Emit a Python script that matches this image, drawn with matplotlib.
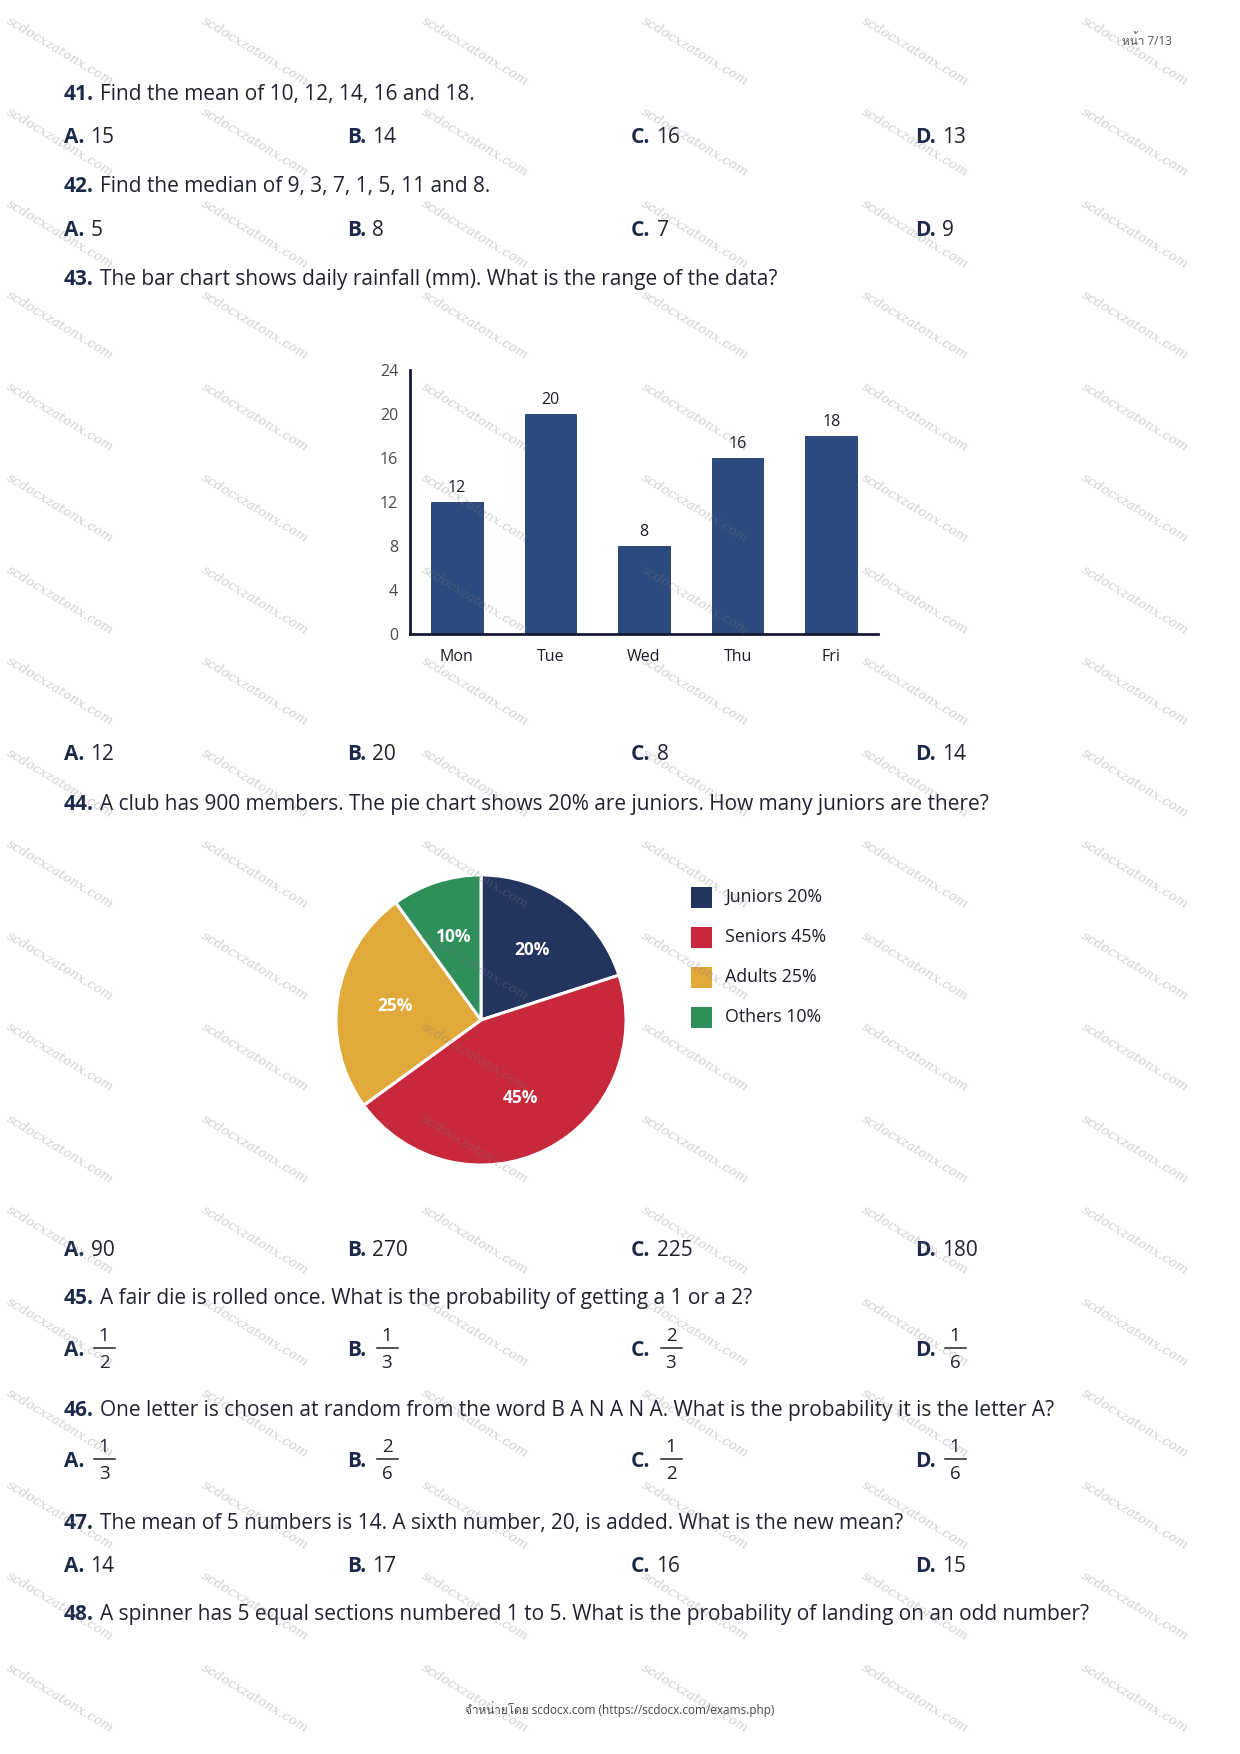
import matplotlib
matplotlib.use("Agg")
import matplotlib.pyplot as plt
from matplotlib import font_manager as fm
from matplotlib.font_manager import FontProperties, findfont
from matplotlib.ft2font import FT2Font
from matplotlib.patches import Rectangle
from matplotlib.lines import Line2D

# ---------------- data ----------------
page_label = "หน้า 7/13"
footer_text = "จำหน่ายโดย scdocx.com (https://scdocx.com/exams.php)"
watermark_text = "scdocxzatonx.com"

q41 = ("41.", "Find the mean of 10, 12, 14, 16 and 18.")
q41_opts = ["15", "14", "16", "13"]
q42 = ("42.", "Find the median of 9, 3, 7, 1, 5, 11 and 8.")
q42_opts = ["5", "8", "7", "9"]
q43 = ("43.", "The bar chart shows daily rainfall (mm). What is the range of the data?")
q43_opts = ["12", "20", "8", "14"]
q44 = ("44.", "A club has 900 members. The pie chart shows 20% are juniors. How many juniors are there?")
q44_opts = ["90", "270", "225", "180"]
q45 = ("45.", "A fair die is rolled once. What is the probability of getting a 1 or a 2?")
q45_num = ["1", "1", "2", "1"]
q45_den = ["2", "3", "3", "6"]
q46 = ("46.", "One letter is chosen at random from the word B A N A N A. What is the probability it is the letter A?")
q46_num = ["1", "2", "1", "1"]
q46_den = ["3", "6", "2", "6"]
q47 = ("47.", "The mean of 5 numbers is 14. A sixth number, 20, is added. What is the new mean?")
q47_opts = ["14", "17", "16", "15"]
q48 = ("48.", "A spinner has 5 equal sections numbered 1 to 5. What is the probability of landing on an odd number?")
opt_letters = ["A.", "B.", "C.", "D."]

rain_days = ["Mon", "Tue", "Wed", "Thu", "Fri"]
rain_mm = [12, 20, 8, 16, 18]
rain_yticks = [0, 4, 8, 12, 16, 20, 24]

pie_labels = ["Juniors", "Seniors", "Adults", "Others"]
pie_pct = [20, 45, 25, 10]

# ---------------- fonts ----------------
thai_font = None
for f in fm.fontManager.ttflist:
    try:
        if 0x0E2B in FT2Font(f.fname).get_charmap():
            thai_font = f.name
            break
    except Exception:
        pass


def has_bold(fam):
    try:
        r = findfont(FontProperties(family=fam), fallback_to_default=False)
        b = findfont(FontProperties(family=fam, weight="bold"), fallback_to_default=False)
        return r != b
    except Exception:
        return False


main_font = "DejaVu Sans"
for cand in ["Noto Sans", "Open Sans", "Lato", "Roboto", "Inter"]:
    if has_bold(cand):
        main_font = cand
        break

FAM = [main_font] + ([thai_font] if thai_font else []) + ["DejaVu Sans"]
plt.rcParams["font.family"] = FAM

W, H = 1240, 1754
fig = plt.figure(figsize=(W / 100, H / 100), dpi=100)
fig.patch.set_facecolor("white")
renderer = fig.canvas.get_renderer()

base = fig.add_axes([0, 0, 1, 1], zorder=0)
base.set_xlim(0, W)
base.set_ylim(H, 0)
base.axis("off")

NUMC = "#1c2a4a"
TXTC = "#20232e"
FS = 15.0
FRS = 13.5
X0 = 64
GAP = 6
OPT_X = [64, 347, 631, 915]


def pair(x, yc, bold, reg):
    yb = yc + 8
    t = base.text(x, yb, bold, fontsize=FS, fontweight="bold", color=NUMC,
                  va="baseline", ha="left")
    w = t.get_window_extent(renderer).width
    base.text(x + w + GAP, yb, reg, fontsize=FS, color=TXTC,
              va="baseline", ha="left")


def qline(y, q):
    pair(X0, y, q[0], q[1])


def opts(y, values):
    for x, let, v in zip(OPT_X, opt_letters, values):
        pair(x, y, let, v)


def frac_opts(y, nums, dens):
    for x, let, n, d in zip(OPT_X, opt_letters, nums, dens):
        base.text(x, y + 8, let, fontsize=FS, fontweight="bold", color=NUMC,
                  va="baseline", ha="left")
        cx = x + 40
        base.text(cx, y - 12, n, fontsize=FRS, color=TXTC, va="center", ha="center")
        base.add_line(Line2D([cx - 10.5, cx + 10.5], [y - 0.5, y - 0.5], color=TXTC, lw=1.1))
        base.text(cx, y + 15, d, fontsize=FRS, color=TXTC, va="center", ha="center")


base.text(1172, 41, page_label, fontsize=8.5, color="#555555", ha="right", va="center")

qline(92, q41)
opts(135, q41_opts)
qline(184, q42)
opts(228, q42_opts)
qline(277, q43)
opts(752, q43_opts)
qline(802, q44)
opts(1248, q44_opts)
qline(1296, q45)
frac_opts(1348, q45_num, q45_den)
qline(1408, q46)
frac_opts(1459, q46_num, q46_den)
qline(1521, q47)
opts(1564, q47_opts)
qline(1612, q48)

base.text(620, 1709, footer_text, fontsize=8.5, color="#444444", ha="center", va="center")

# ---------------- bar chart ----------------
L, R, B, T = 410, 878, 634, 370
axb = fig.add_axes([L / W, 1 - B / H, (R - L) / W, (B - T) / H], zorder=2)
axb.patch.set_alpha(0)
xs = list(range(len(rain_days)))
axb.bar(xs, rain_mm, width=0.55, color="#2b4a7e", edgecolor="#1f3868", linewidth=0.6)
for x, v in zip(xs, rain_mm):
    axb.annotate(str(v), xy=(x, v), xytext=(0, 10), textcoords="offset points",
                 ha="center", va="center", fontsize=11.5, color="#1a1d28")
axb.set_xlim(-0.5, 4.5)
axb.set_ylim(0, 24)
axb.set_yticks(rain_yticks)
axb.set_xticks(xs)
axb.set_xticklabels(rain_days)
for s in ["top", "right"]:
    axb.spines[s].set_visible(False)
for s in ["left", "bottom"]:
    axb.spines[s].set_color("#161a33")
    axb.spines[s].set_linewidth(2)
axb.tick_params(axis="y", length=0, pad=8.5, labelsize=11.5, labelcolor="#4a4a4a")
axb.tick_params(axis="x", length=0, pad=10.5, labelsize=11.5, labelcolor="#1a1d28")

# ---------------- pie chart ----------------
cx, cy, r = 481, 1020, 146.5
axp = fig.add_axes([(cx - r) / W, 1 - (cy + r) / H, 2 * r / W, 2 * r / H], zorder=2)
pie_colors = ["#23345f", "#c8283c", "#e1a83a", "#2f8f5a"]
wedges, texts, autotexts = axp.pie(
    pie_pct, colors=pie_colors, startangle=90, counterclock=False, radius=1,
    autopct=lambda p: f"{p:.0f}%", pctdistance=0.6,
    wedgeprops=dict(edgecolor="white", linewidth=2.2),
    textprops=dict(color="white", fontsize=12.5, fontweight="bold"))
axp.set_xlim(-1.01, 1.01)
axp.set_ylim(-1.01, 1.01)
axp.set_aspect("equal")
axp.axis("off")

# legend
for i, (lab, p, c) in enumerate(zip(pie_labels, pie_pct, pie_colors)):
    yy = 897 + 40 * i
    base.add_patch(Rectangle((691, yy - 10.5), 21, 21, facecolor=c, edgecolor="none"))
    base.text(725, yy, f"{lab} {p}%", fontsize=12.8, color="#1a1d28", va="center", ha="left")

# ---------------- watermark ----------------
wm = fig.add_axes([0, 0, 1, 1], zorder=10)
wm.set_xlim(0, W)
wm.set_ylim(H, 0)
wm.axis("off")
wm.patch.set_alpha(0)
wm_cols = [60, 255, 475, 695, 915, 1135]
wm_rows = [51 + 91.5 * j for j in range(19)]
for x in wm_cols:
    for y in wm_rows:
        wm.text(x, y, watermark_text, fontsize=9.5,
                family="DejaVu Serif", style="italic", color="#7a7a7a", alpha=0.34,
                rotation=-31, rotation_mode="anchor", ha="center", va="center")

fig.savefig("out.png", dpi=100, facecolor="white")
